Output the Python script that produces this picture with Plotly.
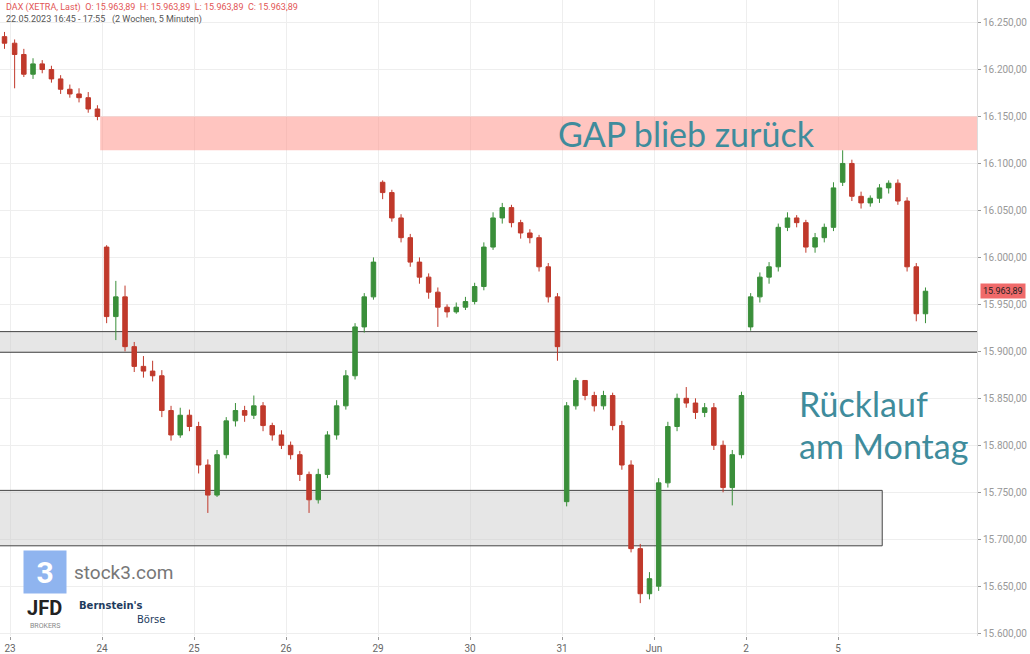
import plotly.graph_objects as go

# Trading days shown on the x axis (first tick is 23.05.)
day_labels = ["23", "24", "25", "26", "29", "30", "31", "Jun", "2", "5"]

# Approximate OHLC, ten bars per trading day
opens = [16235,
         16228, 16216, 16195, 16206, 16200, 16190, 16179, 16174, 16170, 16158,
         16011, 15937, 15958, 15905, 15884, 15879, 15874, 15837, 15811, 15832,
         15820, 15779, 15747, 15790, 15826, 15837, 15832, 15842, 15821, 15811,
         15800, 15790, 15769, 15742, 15769, 15811, 15842, 15874, 15926, 15958,
         16080, 16069, 16042, 16021, 15995, 15979, 15963, 15947, 15942, 15947,
         15953, 15969, 16011, 16042, 16053, 16037, 16026, 16021, 15990, 15958,
         15740, 15842, 15869, 15853, 15842, 15853, 15821, 15779, 15690, 15642,
         15650, 15760, 15820, 15850, 15845, 15835, 15840, 15800, 15755, 15790,
         15926, 15958, 15979, 15990, 16032, 16042, 16037, 16011, 16021, 16032,
         16080, 16100, 16065, 16058, 16063, 16074, 16079, 16060, 15990, 15940]
closes = [16228,
          16216, 16195, 16206, 16200, 16190, 16179, 16174, 16170, 16158, 16150,
          15937, 15958, 15905, 15884, 15879, 15874, 15837, 15811, 15832, 15820,
          15779, 15747, 15790, 15826, 15837, 15832, 15842, 15821, 15811, 15800,
          15790, 15769, 15742, 15769, 15811, 15842, 15874, 15926, 15958, 15995,
          16069, 16042, 16021, 15995, 15979, 15963, 15947, 15942, 15947, 15953,
          15969, 16011, 16042, 16053, 16037, 16026, 16021, 15990, 15958, 15905,
          15842, 15869, 15853, 15842, 15853, 15821, 15779, 15690, 15642, 15658,
          15760, 15820, 15850, 15845, 15835, 15840, 15800, 15755, 15790, 15853,
          15958, 15979, 15990, 16032, 16042, 16037, 16011, 16021, 16032, 16074,
          16100, 16065, 16058, 16063, 16074, 16079, 16060, 15990, 15940, 15964]
highs = [16240,
         16232, 16222, 16212, 16210, 16204, 16194, 16184, 16180, 16176, 16162,
         16013, 15975, 15970, 15910, 15895, 15890, 15880, 15842, 15840, 15838,
         15825, 15785, 15795, 15830, 15845, 15842, 15853, 15846, 15824, 15816,
         15804, 15794, 15772, 15775, 15815, 15848, 15880, 15930, 15962, 16000,
         16082, 16072, 16046, 16025, 16000, 15983, 15968, 15950, 15952, 15958,
         15973, 16016, 16048, 16058, 16056, 16040, 16030, 16024, 15994, 15962,
         15846, 15872, 15868, 15857, 15858, 15856, 15826, 15784, 15695, 15665,
         15765, 15825, 15855, 15862, 15850, 15845, 15845, 15805, 15795, 15857,
         15962, 15984, 15995, 16036, 16048, 16045, 16040, 16026, 16036, 16080,
         16114, 16104, 16070, 16066, 16078, 16082, 16083, 16064, 15994, 15968]
lows = [16222,
        16180, 16192, 16190, 16196, 16186, 16174, 16170, 16165, 16154, 16146,
        15930, 15912, 15900, 15878, 15872, 15868, 15830, 15805, 15808, 15815,
        15770, 15728, 15745, 15786, 15820, 15825, 15828, 15815, 15805, 15796,
        15785, 15762, 15728, 15738, 15765, 15806, 15838, 15870, 15920, 15955,
        16062, 16038, 16016, 15990, 15972, 15956, 15926, 15936, 15940, 15944,
        15950, 15965, 16008, 16036, 16032, 16020, 16015, 15985, 15952, 15890,
        15735, 15838, 15848, 15836, 15838, 15816, 15774, 15686, 15632, 15636,
        15645, 15755, 15815, 15840, 15828, 15830, 15795, 15750, 15736, 15786,
        15922, 15952, 15972, 15985, 16028, 16032, 16005, 16005, 16016, 16028,
        16076, 16060, 16052, 16054, 16058, 16068, 16056, 15985, 15932, 15930]

bars_per_day = 10
xs = [-0.06] + [d + (i + 0.5) / bars_per_day for d in range(len(day_labels)) for i in range(bars_per_day)]

price_ticks = [15600 + 50 * k for k in range(14)]
tick_text = [f"{v // 1000}.{v % 1000:03d},00" for v in price_ticks]

teal = "#3f8c9c"

fig = go.Figure(go.Candlestick(
    x=xs, open=opens, high=highs, low=lows, close=closes,
    increasing=dict(line=dict(color="#3a8f3a", width=1), fillcolor="#3a8f3a"),
    decreasing=dict(line=dict(color="#c0392b", width=1), fillcolor="#c0392b"),
    whiskerwidth=0, showlegend=False,
))

# Zones
fig.add_shape(type="rect", x0=-0.12, x1=10.52, y0=15899, y1=15921, layer="between",
              fillcolor="rgba(200,200,200,0.45)", line=dict(color="#444", width=1))
fig.add_shape(type="rect", x0=-0.12, x1=9.48, y0=15693, y1=15752, layer="between",
              fillcolor="rgba(200,200,200,0.45)", line=dict(color="#444", width=1))
fig.add_shape(type="rect", x0=0.98, x1=10.52, y0=16114, y1=16150, layer="between",
              fillcolor="rgba(255,150,140,0.55)", line=dict(width=0))

fig.add_annotation(x=7.35, y=16132, text="GAP blieb zurück", showarrow=False,
                   font=dict(family="Lato", size=34, color=teal))
fig.add_annotation(x=8.55, y=15845, text="Rücklauf", showarrow=False, xanchor="left",
                   font=dict(family="Lato", size=34, color=teal))
fig.add_annotation(x=8.55, y=15800, text="am Montag", showarrow=False, xanchor="left",
                   font=dict(family="Lato", size=34, color=teal))

# Header
fig.add_annotation(xref="paper", yref="paper", x=0.004, y=1.0, yanchor="top", xanchor="left",
                   text="DAX (XETRA, Last)  O: 15.963,89  H: 15.963,89  L: 15.963,89  C: 15.963,89",
                   showarrow=False, font=dict(family="Roboto", size=9, color="#e25555"))
fig.add_annotation(xref="paper", yref="paper", x=0.004, y=0.981, yanchor="top", xanchor="left",
                   text="22.05.2023 16:45 - 17:55   (2 Wochen, 5 Minuten)",
                   showarrow=False, font=dict(family="Roboto", size=9, color="#555"))

# Last price marker
fig.add_annotation(xref="paper", x=1.0, y=15964, xanchor="left", text="15.963,89",
                   showarrow=False, bgcolor="#f06a6a", font=dict(family="Roboto", size=9, color="#222"),
                   borderpad=2, xshift=3)

# Logos as text
fig.add_annotation(x=0.38, y=15665, text="<b>3</b>", showarrow=False, bgcolor="#8fb4ef",
                   font=dict(family="Roboto", size=30, color="white"), width=40, height=40)
fig.add_annotation(x=0.67, y=15665, xanchor="left", text="stock3.com", showarrow=False,
                   font=dict(family="Roboto", size=19, color="#777"))
fig.add_annotation(x=0.38, y=15627, text="<b>JFD</b>", showarrow=False,
                   font=dict(family="Roboto", size=20, color="#222"))
fig.add_annotation(x=0.38, y=15608, text="BROKERS", showarrow=False,
                   font=dict(family="Roboto", size=7, color="#888"))
fig.add_annotation(x=0.73, y=15630, xanchor="left", text="<b>Bernstein's</b>", showarrow=False,
                   font=dict(family="DejaVu Sans", size=10, color="#1d3b5e"))
fig.add_annotation(x=1.36, y=15615, xanchor="left", text="Börse", showarrow=False,
                   font=dict(family="DejaVu Sans", size=10, color="#1d3b5e"))

fig.update_layout(
    width=1030, height=654, margin=dict(l=0, r=53, t=0, b=16),
    plot_bgcolor="white", paper_bgcolor="white",
    xaxis=dict(range=[-0.109, 10.51], rangeslider=dict(visible=False),
               tickvals=list(range(len(day_labels))), ticktext=day_labels,
               showgrid=True, gridcolor="#eeeeee", ticks="outside", ticklen=3,
               tickcolor="#999", tickfont=dict(family="Roboto", size=10, color="#666"),
               zeroline=False),
    yaxis=dict(side="right", range=[15597, 16274], tickvals=price_ticks, ticktext=tick_text,
               showgrid=True, gridcolor="#eeeeee", ticks="outside", ticklen=3,
               tickcolor="#999", showline=True, linecolor="#dddddd",
               tickfont=dict(family="Roboto", size=10, color="#999"), zeroline=False),
)

fig.write_html("out.html", config={"displayModeBar": False},
               post_script="document.body.style.margin='0';")
